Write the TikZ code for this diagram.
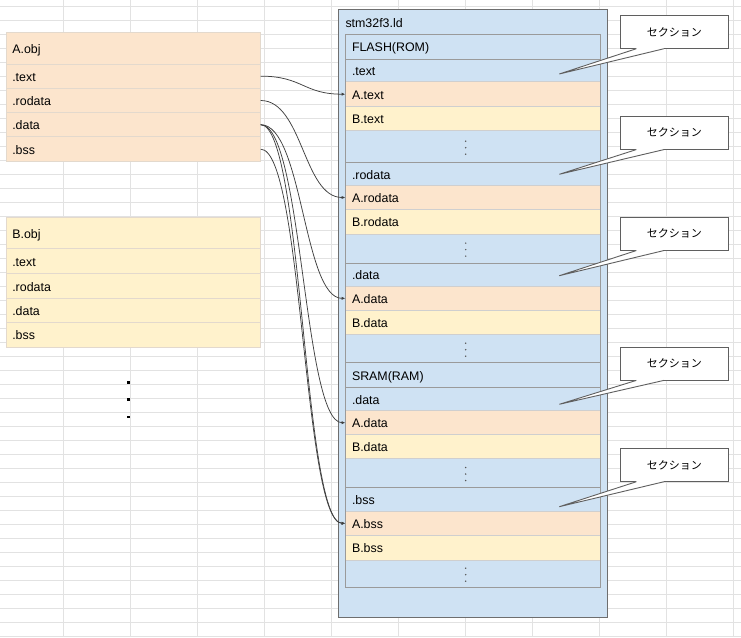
\documentclass[tikz,border=0pt]{standalone}
\usepackage{fontspec}
\setmainfont{Liberation Sans}
\newfontfamily\jpfont{Noto Sans CJK JP}
\usetikzlibrary{arrows.meta}
\definecolor{peach}{HTML}{FCE5CD}
\definecolor{cream}{HTML}{FFF2CC}
\definecolor{sky}{HTML}{CFE2F3}
\definecolor{gridc}{HTML}{E2E2E2}
\definecolor{objline}{HTML}{E3D9CD}
\definecolor{lightsep}{HTML}{CFCFCF}
\definecolor{darksep}{HTML}{9A9A9A}
\definecolor{boxline}{HTML}{6E6E6E}
\definecolor{calline}{HTML}{5F5F5F}
\definecolor{connc}{HTML}{404040}
\definecolor{dotc}{HTML}{555555}
\newcommand\vdotsin[1]{\foreach \dy in {5.5,-1,-7.5} \fill[dotc] ([xshift=-7.1pt,yshift=\dy pt]#1.center) circle[radius=0.8pt];}
\newcommand\calloutptr[2]{%
  \fill[white] ([xshift=16.7pt,yshift=1pt]#1.south west) -- ([xshift=16.7pt]#1.south west) -- (#2) -- ([xshift=44.3pt]#1.south west) -- ([xshift=44.3pt,yshift=1pt]#1.south west) -- cycle;
  \draw[calline, line width=0.9pt] ([xshift=16.7pt]#1.south west) -- (#2) -- ([xshift=44.3pt]#1.south west);}
\begin{document}
\begin{tikzpicture}[x=1pt,y=-1pt,
  font=\fontsize{12.4}{14}\selectfont,
  gridline/.style={draw=gridc, line width=1pt},
  objrow/.style={draw=objline, line width=1pt, anchor=north west, minimum width=254, text width=242.8, inner xsep=5.6, inner ysep=0, outer sep=0, align=left, text height=11, text depth=1},
  tabrow/.style={draw=lightsep, line width=0.8pt, anchor=north west, minimum width=255, text width=241.6, inner xsep=6.7, inner ysep=0, outer sep=0, align=left, text height=11, text depth=1},
  darkline/.style={draw=darksep, line width=0.9pt},
  callbox/.style={draw=calline, fill=white, line width=0.9pt, minimum width=108.7, minimum height=32.6, inner sep=0, font=\jpfont\fontsize{11}{13}\selectfont},
  conn/.style={draw=connc, line width=0.75pt, -{Latex[length=3.6pt,width=3.2pt]}}
]
\useasboundingbox[fill=white] (0,0) rectangle (741,637);
% spreadsheet grid
\foreach \k in {0,...,45} \draw[gridline] (0,{6.7+14*\k}) -- (741,{6.7+14*\k});
\foreach \k in {0,...,10} \draw[gridline] ({63.3+67*\k},0) -- ({63.3+67*\k},637);

% A.obj
\node[objrow, fill=peach, minimum height=31.3] (aobj) at (6.7,32.7) {A.obj};
\node[objrow, fill=peach, minimum height=24.3] (atext) at (6.7,64) {.text};
\node[objrow, fill=peach, minimum height=24.4] (arodata) at (6.7,88.3) {.rodata};
\node[objrow, fill=peach, minimum height=24] (adata) at (6.7,112.7) {.data};
\node[objrow, fill=peach, minimum height=25] (abss) at (6.7,136.7) {.bss};

% B.obj
\node[objrow, fill=cream, minimum height=31.4] (bobj) at (6.7,217.3) {B.obj};
\node[objrow, fill=cream, minimum height=24.6] (btext) at (6.7,248.7) {.text};
\node[objrow, fill=cream, minimum height=25.4] (brodata) at (6.7,273.3) {.rodata};
\node[objrow, fill=cream, minimum height=24] (bdata) at (6.7,298.7) {.data};
\node[objrow, fill=cream, minimum height=24.3] (bbss) at (6.7,322.7) {.bss};

% more objects marker
\foreach \yy in {380.9,398.3,415.6} \fill[black] (126.9,\yy) rectangle ++(2.8,2.8);

% linker script box
\node[draw=boxline, fill=sky, line width=0.9pt, anchor=north west, minimum width=269, minimum height=608, inner sep=0, outer sep=0] (ld) at (338.3,9.3) {};
\node[anchor=west, inner sep=0] (ldlab) at (345.3,22.8) {stm32f3.ld};

\node[tabrow, fill=sky, minimum height=25.5] (flash) at (345.3,34) {FLASH(ROM)};
\node[tabrow, fill=sky, minimum height=22.2] (ttext) at (345.3,59.5) {.text};
\node[tabrow, fill=peach, minimum height=25] (tAtext) at (345.3,81.7) {A.text};
\node[tabrow, fill=cream, minimum height=24] (tBtext) at (345.3,106.7) {B.text};
\node[tabrow, fill=sky, minimum height=32] (d1) at (345.3,130.7) {};
\node[tabrow, fill=sky, minimum height=23] (trodata) at (345.3,162.7) {.rodata};
\node[tabrow, fill=peach, minimum height=23.6] (tArodata) at (345.3,185.7) {A.rodata};
\node[tabrow, fill=cream, minimum height=24.7] (tBrodata) at (345.3,209.3) {B.rodata};
\node[tabrow, fill=sky, minimum height=29.3] (d2) at (345.3,234) {};
\node[tabrow, fill=sky, minimum height=22.7] (tdata) at (345.3,263.3) {.data};
\node[tabrow, fill=peach, minimum height=24.7] (tAdata) at (345.3,286) {A.data};
\node[tabrow, fill=cream, minimum height=24] (tBdata) at (345.3,310.7) {B.data};
\node[tabrow, fill=sky, minimum height=28] (d3) at (345.3,334.7) {};
\node[tabrow, fill=sky, minimum height=24.6] (sram) at (345.3,362.7) {SRAM(RAM)};
\node[tabrow, fill=sky, minimum height=23.4] (sdata) at (345.3,387.3) {.data};
\node[tabrow, fill=peach, minimum height=24] (sAdata) at (345.3,410.7) {A.data};
\node[tabrow, fill=cream, minimum height=24] (sBdata) at (345.3,434.7) {B.data};
\node[tabrow, fill=sky, minimum height=28.6] (d4) at (345.3,458.7) {};
\node[tabrow, fill=sky, minimum height=24] (sbss) at (345.3,487.3) {.bss};
\node[tabrow, fill=peach, minimum height=24] (sAbss) at (345.3,511.3) {A.bss};
\node[tabrow, fill=cream, minimum height=24.7] (sBbss) at (345.3,535.3) {B.bss};
\node[tabrow, fill=sky, minimum height=27.3] (d5) at (345.3,560) {};

\foreach \n in {ttext,trodata,tdata,sram,sdata,sbss} \draw[darkline] (\n.north west) -- (\n.north east);
\draw[darkline] (flash.north west) rectangle (d5.south east);
\foreach \n in {d1,d2,d3,d4,d5} {\vdotsin{\n}}

% connectors
\draw[conn] (atext.east) .. controls +(42,0) and +(-42,0) .. (tAtext.west);
\draw[conn] (arodata.east) .. controls +(42,0) and +(-42,0) .. (tArodata.west);
\draw[conn] (adata.east) .. controls +(42,0) and +(-42,0) .. (tAdata.west);
\draw[conn] (adata.east) .. controls +(42,0) and +(-42,0) .. (sAdata.west);
\draw[conn] (adata.east) .. controls +(42,0) and +(-42,0) .. (sAbss.west);
\draw[conn] (abss.east) .. controls +(42,0) and +(-42,0) .. (sAbss.west);

% callouts
\node[callbox] (c1) at (674.35,32) {セクション};
\node[callbox] (c2) at (674.35,132.85) {セクション};
\node[callbox] (c3) at (674.35,233.8) {セクション};
\node[callbox] (c4) at (674.35,363.65) {セクション};
\node[callbox] (c5) at (674.35,465) {セクション};
\coordinate (p1) at (559.3,74);
\coordinate (p2) at (559.3,174.3);
\coordinate (p3) at (559.3,275.7);
\coordinate (p4) at (559.3,404.3);
\coordinate (p5) at (559.3,506.7);
\calloutptr{c1}{p1}
\calloutptr{c2}{p2}
\calloutptr{c3}{p3}
\calloutptr{c4}{p4}
\calloutptr{c5}{p5}
\end{tikzpicture}
\end{document}
